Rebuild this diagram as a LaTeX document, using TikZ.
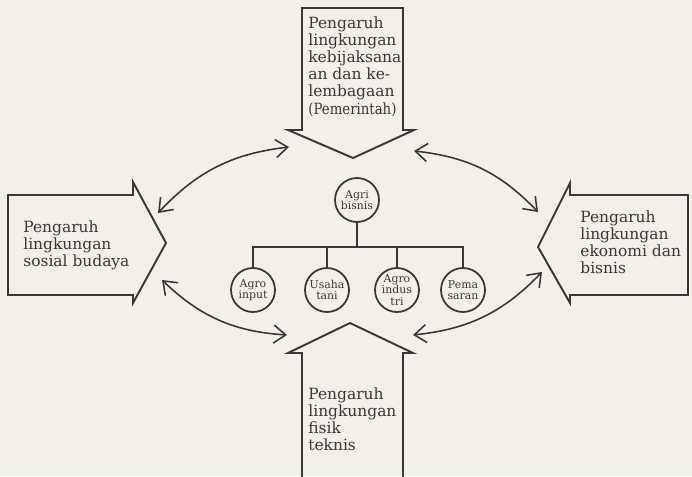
\documentclass[tikz,border=0pt]{standalone}
\usepackage{fontspec}
\setmainfont{DejaVu Serif}
\usepackage{graphicx}
\usetikzlibrary{arrows.meta}
\definecolor{paper}{RGB}{243,240,233}
\definecolor{ink}{RGB}{58,56,54}
\tikzset{
  bigarrow/.style={draw=ink, line width=1.1pt, line join=miter},
  boxtext/.style={anchor=north west, inner sep=0pt, align=left, text=ink,
    font=\fontsize{8.8}{9.8}\selectfont},
  unit/.style={circle, draw=ink, line width=1pt, minimum size=0.88cm, inner sep=0pt,
    align=center, text=ink, font=\fontsize{6.2}{6.6}\selectfont},
  link/.style={draw=ink, line width=0.8pt},
  twoway/.style={draw=ink, line width=0.9pt, {Straight Barb[length=2.4mm,width=3.6mm]}-{Straight Barb[length=2.4mm,width=3.6mm]}}
}
\begin{document}
\begin{tikzpicture}[x=0.02cm, y=-0.02cm]
    \fill[paper] (0,0) rectangle (692,476);
    \useasboundingbox (0,0) rectangle (692,476);
    % Top arrow: government
    \draw[bigarrow] (302,8) -- (403,8) -- (403,130) -- (414,130) -- (353,158) coordinate (toptip)
      -- (288,130) -- (302,130) -- cycle;
    \coordinate (topl) at (289,147);
    \coordinate (topr) at (414,151);
    \node[boxtext] (govtext) at (308,16) {Pengaruh\\lingkungan\\kebijaksana\\an dan ke-\\lembagaan\\\scalebox{0.86}[1]{(Pemerintah)}};
    % Left arrow: social and culture
    \draw[bigarrow] (8,195) -- (133,195) -- (133,182) -- (166,243) coordinate (lefttip)
      -- (133,303) -- (133,295) -- (8,295) -- cycle;
    \coordinate (leftu) at (158,213);
    \coordinate (leftd) at (162,280);
    \node[boxtext] (socialtext) at (23,220) {Pengaruh\\lingkungan\\sosial budaya};
    % Right arrow: economy and business
    \draw[bigarrow] (688,195) -- (570,195) -- (570,183) -- (538,247) coordinate (righttip)
      -- (570,303) -- (570,295) -- (688,295) -- cycle;
    \coordinate (rightu) at (538,212);
    \coordinate (rightd) at (542,272);
    \node[boxtext] (ecotext) at (580,210) {Pengaruh\\lingkungan\\ekonomi dan\\bisnis};
    % Bottom arrow: physical and technical
    \draw[bigarrow] (302,480) -- (302,353) -- (288,353) -- (350,323) coordinate (bottip)
      -- (413,353) -- (403,353) -- (403,480);
    \coordinate (botl) at (287,335);
    \coordinate (botr) at (413,335);
    \node[boxtext] (fisiktext) at (308,387) {Pengaruh\\lingkungan\\fisik\\teknis};
    % Agribusiness tree
    \node[unit] (agri) at (357,200) {Agri\\bisnis};
    \node[unit] (input) at (253,290) {Agro\\input};
    \node[unit] (usaha) at (327,290) {Usaha\\tani};
    \node[unit] (indus) at (397,290) {Agro\\indus\\tri};
    \node[unit] (pasar) at (463,290) {Pema\\saran};
    \coordinate (bar) at (357,247);
    \draw[link] (agri) -- (bar);
    \draw[link] (input.north) |- (bar) -| (pasar.north);
    \draw[link] (usaha.north) -- (usaha.north |- bar);
    \draw[link] (indus.north) -- (indus.north |- bar);
    % Two way influences
    \draw[twoway] (leftu) to[bend left=20] (topl);
    \draw[twoway] (topr) to[bend left=20] (rightu);
    \draw[twoway] (leftd) to[bend right=20] (botl);
    \draw[twoway] (botr) to[bend right=20] (rightd);
\end{tikzpicture}
\end{document}
